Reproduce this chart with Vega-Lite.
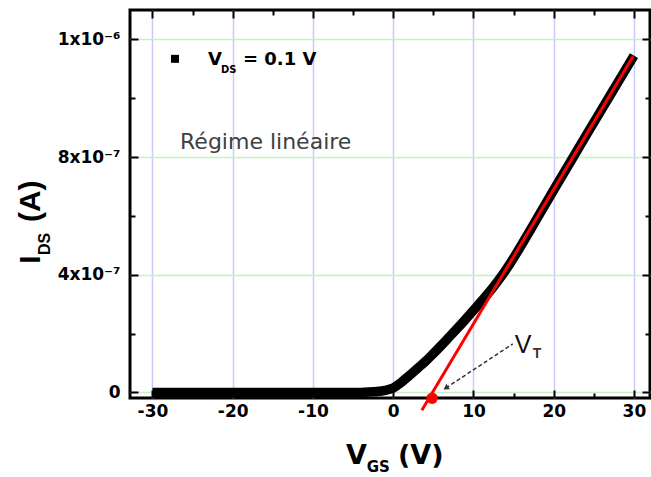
{
  "$schema": "https://vega.github.io/schema/vega-lite/v6.json",
  "width": 520,
  "height": 388,
  "autosize": {"type": "none"},
  "padding": {"left": 130, "top": 10, "right": 1, "bottom": 79},
  "background": "white",
  "config": {"view": {"stroke": "#000", "strokeWidth": 3}},
  "datasets": {
    "curve": [
      {"V": -30, "I": 0}, {"V": -25, "I": 0}, {"V": -20, "I": 0}, {"V": -15, "I": 0},
      {"V": -10, "I": 0}, {"V": -5, "I": 0}, {"V": -4, "I": 0}, {"V": -3, "I": 0.01}, {"V": -2, "I": 0.03},
      {"V": -1, "I": 0.07}, {"V": 0, "I": 0.15}, {"V": 1, "I": 0.34}, {"V": 2, "I": 0.57},
      {"V": 3, "I": 0.81}, {"V": 4, "I": 1.05}, {"V": 5, "I": 1.32}, {"V": 6, "I": 1.6},
      {"V": 7, "I": 1.89}, {"V": 8, "I": 2.18}, {"V": 9, "I": 2.48}, {"V": 10, "I": 2.79},
      {"V": 11, "I": 3.1}, {"V": 12, "I": 3.42}, {"V": 13, "I": 3.77}, {"V": 14, "I": 4.15},
      {"V": 15, "I": 4.57}, {"V": 16, "I": 5.02}, {"V": 17, "I": 5.48}, {"V": 18, "I": 5.95},
      {"V": 20, "I": 6.88}, {"V": 22, "I": 7.8}, {"V": 24, "I": 8.72}, {"V": 26, "I": 9.63},
      {"V": 28, "I": 10.54}, {"V": 30, "I": 11.45}
    ],
    "fit": [{"V": 3.57, "I": -0.61}, {"V": 29.9, "I": 11.43}],
    "vt": [{"V": 4.85, "I": -0.2}],
    "arrow": [{"V": 14.9, "I": 1.65}, {"V": 6.56, "I": 0.15}],
    "arrowhead": [{"V": 6.56, "I": 0.15}],
    "legendmark": [{"V": -27.19, "I": 11.34}],
    "legendtext": [{"V": -23.08, "I": 11.13, "t": "V"}, {"V": -18.72, "I": 11.13, "t": "= 0.1 V"}],
    "legendsub": [{"V": -21.47, "I": 10.86, "t": "DS"}],
    "regime": [{"V": -26.56, "I": 8.26, "t": "Régime linéaire"}],
    "vtlabel": [{"V": 15.15, "I": 1.34, "t": "V"}],
    "vtsub": [{"V": 17.4, "I": 1.17, "t": "T"}],
    "xtitle": [{"V": -5.89, "I": -2.43, "t": "V"}, {"V": 0.59, "I": -2.43, "t": "(V)"}],
    "xtitlesub": [{"V": -3.29, "I": -2.72, "t": "GS"}],
    "ytitle": [{"V": -44.0, "I": 4.37, "t": "I"}, {"V": -44.0, "I": 5.79, "t": "(A)"}],
    "ytitlesub": [{"V": -42.74, "I": 4.67, "t": "DS"}]
  },
  "resolve": {"axis": {"x": "independent", "y": "independent"}},
  "layer": [
    {
      "data": {"name": "curve"},
      "mark": {"type": "line", "color": "#000", "strokeWidth": 9.5, "strokeCap": "butt", "strokeJoin": "round", "interpolate": "monotone"},
      "encoding": {
        "x": {"field": "V", "type": "quantitative", "scale": {"domain": [-32.8, 32], "nice": false, "zero": false},
          "axis": {"orient": "bottom", "values": [-30, -25, -20, -15, -10, -5, 0, 5, 10, 15, 20, 25, 30],
            "labelExpr": "datum.value % 10 === 0 ? '' + datum.value : ''", "title": null, "domain": false,
            "grid": true, "gridColor": "#c9c9fb", "gridWidth": 1.5,
            "gridOpacity": {"condition": {"test": "datum.value % 10 === 0", "value": 1}, "value": 0},
            "tickSize": {"condition": {"test": "datum.value % 10 === 0", "value": -8}, "value": -5},
            "tickWidth": 2, "tickColor": "#000", "labelFont": "DejaVu Sans", "labelFontWeight": "bold",
            "labelFontSize": 17, "labelColor": "#000", "labelPadding": 13, "labelFlush": false, "labelOverlap": false}},
        "y": {"field": "I", "type": "quantitative", "scale": {"domain": [-0.19, 13.0], "nice": false, "zero": false},
          "axis": {"orient": "left", "values": [0, 2, 4, 6, 8, 10, 12],
            "labelExpr": "datum.value === 12 ? '1x10⁻⁶' : datum.value === 8 ? '8x10⁻⁷' : datum.value === 4 ? '4x10⁻⁷' : datum.value === 0 ? '0' : ''",
            "title": null, "domain": false, "grid": true, "gridColor": "#c6f1c6", "gridWidth": 1.5,
            "gridOpacity": {"condition": {"test": "datum.value % 4 === 0", "value": 1}, "value": 0},
            "tickSize": {"condition": {"test": "datum.value % 4 === 0", "value": -8}, "value": -5},
            "tickWidth": 2, "tickColor": "#000", "labelFont": "DejaVu Sans", "labelFontWeight": "bold",
            "labelFontSize": 17, "labelColor": "#000", "labelPadding": 18, "labelFlush": false, "labelOverlap": false}}
      }
    },
    {
      "data": {"name": "fit"},
      "mark": {"type": "line", "color": "#ff0000", "strokeWidth": 3},
      "encoding": {
        "x": {"field": "V", "type": "quantitative", "scale": {"domain": [-32.8, 32], "nice": false, "zero": false},
          "axis": {"orient": "top", "values": [-30, -25, -20, -15, -10, -5, 0, 5, 10, 15, 20, 25, 30],
            "labels": false, "title": null, "domain": false, "grid": false,
            "tickSize": {"condition": {"test": "datum.value % 10 === 0", "value": -8}, "value": -5},
            "tickWidth": 2, "tickColor": "#000"}},
        "y": {"field": "I", "type": "quantitative", "scale": {"domain": [-0.19, 13.0], "nice": false, "zero": false},
          "axis": {"orient": "right", "values": [0, 2, 4, 6, 8, 10, 12],
            "labels": false, "title": null, "domain": false, "grid": false,
            "tickSize": {"condition": {"test": "datum.value % 4 === 0", "value": -8}, "value": -5},
            "tickWidth": 2, "tickColor": "#000"}}
      }
    },
    {
      "data": {"name": "vt"},
      "mark": {"type": "point", "shape": "circle", "filled": true, "color": "#ff0000", "size": 130, "opacity": 1},
      "encoding": {
        "x": {"field": "V", "type": "quantitative", "scale": {"domain": [-32.8, 32], "nice": false, "zero": false}, "axis": null},
        "y": {"field": "I", "type": "quantitative", "scale": {"domain": [-0.19, 13.0], "nice": false, "zero": false}, "axis": null}
      }
    },
    {
      "data": {"name": "arrow"},
      "mark": {"type": "line", "color": "#333", "strokeWidth": 1.5, "strokeDash": [4, 2.5]},
      "encoding": {
        "x": {"field": "V", "type": "quantitative", "scale": {"domain": [-32.8, 32], "nice": false, "zero": false}, "axis": null},
        "y": {"field": "I", "type": "quantitative", "scale": {"domain": [-0.19, 13.0], "nice": false, "zero": false}, "axis": null}
      }
    },
    {
      "data": {"name": "arrowhead"},
      "mark": {"type": "point", "shape": "triangle-up", "filled": true, "color": "#333", "size": 40, "angle": 237, "opacity": 1},
      "encoding": {
        "x": {"field": "V", "type": "quantitative", "scale": {"domain": [-32.8, 32], "nice": false, "zero": false}, "axis": null},
        "y": {"field": "I", "type": "quantitative", "scale": {"domain": [-0.19, 13.0], "nice": false, "zero": false}, "axis": null}
      }
    },
    {
      "data": {"name": "legendmark"},
      "mark": {"type": "point", "shape": "square", "filled": true, "color": "#000", "size": 64, "opacity": 1},
      "encoding": {
        "x": {"field": "V", "type": "quantitative", "scale": {"domain": [-32.8, 32], "nice": false, "zero": false}, "axis": null},
        "y": {"field": "I", "type": "quantitative", "scale": {"domain": [-0.19, 13.0], "nice": false, "zero": false}, "axis": null}
      }
    },
    {
      "data": {"name": "legendtext"},
      "mark": {"type": "text", "font": "DejaVu Sans", "fontWeight": "bold", "fontSize": 18, "color": "#000", "align": "left", "baseline": "alphabetic"},
      "encoding": {
        "x": {"field": "V", "type": "quantitative", "scale": {"domain": [-32.8, 32], "nice": false, "zero": false}, "axis": null},
        "y": {"field": "I", "type": "quantitative", "scale": {"domain": [-0.19, 13.0], "nice": false, "zero": false}, "axis": null},
        "text": {"field": "t"}
      }
    },
    {
      "data": {"name": "legendsub"},
      "mark": {"type": "text", "font": "DejaVu Sans", "fontWeight": "bold", "fontSize": 10, "color": "#000", "align": "left", "baseline": "alphabetic"},
      "encoding": {
        "x": {"field": "V", "type": "quantitative", "scale": {"domain": [-32.8, 32], "nice": false, "zero": false}, "axis": null},
        "y": {"field": "I", "type": "quantitative", "scale": {"domain": [-0.19, 13.0], "nice": false, "zero": false}, "axis": null},
        "text": {"field": "t"}
      }
    },
    {
      "data": {"name": "regime"},
      "mark": {"type": "text", "font": "DejaVu Sans", "fontSize": 22, "color": "#404040", "align": "left", "baseline": "alphabetic"},
      "encoding": {
        "x": {"field": "V", "type": "quantitative", "scale": {"domain": [-32.8, 32], "nice": false, "zero": false}, "axis": null},
        "y": {"field": "I", "type": "quantitative", "scale": {"domain": [-0.19, 13.0], "nice": false, "zero": false}, "axis": null},
        "text": {"field": "t"}
      }
    },
    {
      "data": {"name": "vtlabel"},
      "mark": {"type": "text", "font": "Liberation Sans", "fontSize": 25, "color": "#111", "align": "left", "baseline": "alphabetic"},
      "encoding": {
        "x": {"field": "V", "type": "quantitative", "scale": {"domain": [-32.8, 32], "nice": false, "zero": false}, "axis": null},
        "y": {"field": "I", "type": "quantitative", "scale": {"domain": [-0.19, 13.0], "nice": false, "zero": false}, "axis": null},
        "text": {"field": "t"}
      }
    },
    {
      "data": {"name": "vtsub"},
      "mark": {"type": "text", "font": "Liberation Sans", "fontWeight": "bold", "fontSize": 14, "color": "#3d3528", "align": "left", "baseline": "alphabetic"},
      "encoding": {
        "x": {"field": "V", "type": "quantitative", "scale": {"domain": [-32.8, 32], "nice": false, "zero": false}, "axis": null},
        "y": {"field": "I", "type": "quantitative", "scale": {"domain": [-0.19, 13.0], "nice": false, "zero": false}, "axis": null},
        "text": {"field": "t"}
      }
    },
    {
      "data": {"name": "xtitle"},
      "mark": {"type": "text", "font": "DejaVu Sans", "fontWeight": "bold", "fontSize": 27, "color": "#000", "align": "left", "baseline": "alphabetic"},
      "encoding": {
        "x": {"field": "V", "type": "quantitative", "scale": {"domain": [-32.8, 32], "nice": false, "zero": false}, "axis": null},
        "y": {"field": "I", "type": "quantitative", "scale": {"domain": [-0.19, 13.0], "nice": false, "zero": false}, "axis": null},
        "text": {"field": "t"}
      }
    },
    {
      "data": {"name": "xtitlesub"},
      "mark": {"type": "text", "font": "DejaVu Sans", "fontWeight": "bold", "fontSize": 15, "color": "#000", "align": "left", "baseline": "alphabetic"},
      "encoding": {
        "x": {"field": "V", "type": "quantitative", "scale": {"domain": [-32.8, 32], "nice": false, "zero": false}, "axis": null},
        "y": {"field": "I", "type": "quantitative", "scale": {"domain": [-0.19, 13.0], "nice": false, "zero": false}, "axis": null},
        "text": {"field": "t"}
      }
    },
    {
      "data": {"name": "ytitle"},
      "mark": {"type": "text", "font": "Liberation Sans", "fontWeight": "bold", "fontSize": 30, "color": "#000", "align": "left", "baseline": "alphabetic", "angle": 270},
      "encoding": {
        "x": {"field": "V", "type": "quantitative", "scale": {"domain": [-32.8, 32], "nice": false, "zero": false}, "axis": null},
        "y": {"field": "I", "type": "quantitative", "scale": {"domain": [-0.19, 13.0], "nice": false, "zero": false}, "axis": null},
        "text": {"field": "t"}
      }
    },
    {
      "data": {"name": "ytitlesub"},
      "mark": {"type": "text", "font": "Liberation Sans", "fontWeight": "bold", "fontSize": 16, "color": "#000", "align": "left", "baseline": "alphabetic", "angle": 270},
      "encoding": {
        "x": {"field": "V", "type": "quantitative", "scale": {"domain": [-32.8, 32], "nice": false, "zero": false}, "axis": null},
        "y": {"field": "I", "type": "quantitative", "scale": {"domain": [-0.19, 13.0], "nice": false, "zero": false}, "axis": null},
        "text": {"field": "t"}
      }
    }
  ]
}
